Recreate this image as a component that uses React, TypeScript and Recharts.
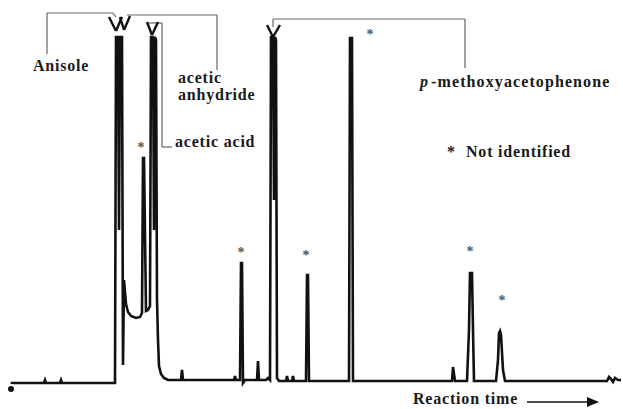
import { LineChart, Line, XAxis, YAxis, ReferenceLine } from "recharts";

// retention time (arbitrary units) and detector signal
const times = [
  11, 12, 44, 45, 46, 60, 61, 62, 115, 116, 118, 119, 120, 122, 123, 124, 125, 126, 128, 131, 136, 140, 142, 143,
  144, 146, 148, 150, 151, 153, 154, 155, 156, 157, 158, 159, 161, 164, 168, 181, 182, 183, 234, 235, 236, 240,
  241, 242, 243, 245, 257, 258, 259, 266, 268, 270, 271, 273, 274, 275, 276, 277, 279, 286, 287, 288, 292, 293,
  294, 306, 307, 308, 309, 349, 350, 352, 353, 452, 453, 455, 467, 469, 470, 472, 473, 474, 496, 498, 499, 500,
  501, 503, 505, 607, 609, 611, 613, 615, 618, 621,
];
const signal = [
  -6, 0, 0, 3, 0, 0, 3, 0, 0, 346, 346, 153, 346, 346, 18, 103, 91, 79, 71, 67, 65, 66, 70, 225,
  225, 72, 73, 77, 346, 346, 153, 346, 343, 83, 43, 17, 9, 5, 3, 3, 13, 3, 3, 7, 3, 3,
  120, 120, 0, 3, 3, 22, 3, 3, 5, 3, 346, 346, 183, 346, 343, 5, 2, 2, 7, 2, 2, 7,
  2, 2, 108, 108, 2, 2, 345, 345, 2, 2, 16, 2, 2, 53, 110, 110, 53, 2, 2, 23, 50, 52,
  48, 13, 2, 2, 6, 4, 1, 5, 3, 3,
];

// label brackets, in chart units [x1, y1, x2, y2]
const brackets = [
  [47, 329, 47, 370],
  [47, 370, 113, 370],
  [113, 370, 116, 366],
  [127, 368, 217, 368],
  [217, 368, 217, 313],
  [147, 360, 162, 360],
  [162, 360, 162, 236],
  [162, 236, 172, 236],
  [273, 356, 273, 364],
  [273, 364, 465, 364],
  [465, 364, 465, 315],
];
// arrow heads pointing at the peaks
const arrows = [
  [109, 366, 116, 352],
  [116, 352, 122, 366],
  [120, 366, 124, 353],
  [124, 353, 130, 367],
  [147, 361, 152, 348],
  [152, 348, 158, 361],
  [267, 358, 273, 346],
  [273, 346, 280, 358],
];
const starX = [141, 241, 306, 370, 470, 502];
const starY = [145, 250, 253, 32, 249, 298];

const data = times.map((t, i) => ({ t, s: signal[i] }));

const W = 623;
const H = 409;
const font = {
  fontFamily: "'Liberation Serif', 'Times New Roman', serif",
  fontWeight: 700,
  fontSize: 16,
  letterSpacing: 0.8,
  fill: "#1a1a1a",
};

export default function App() {
  return (
    <div style={{ position: "absolute", left: 0, top: 0, width: W, height: H, background: "#fff" }}>
      <LineChart width={W} height={H} data={data} margin={{ top: 0, right: 0, left: 0, bottom: 0 }}>
        <XAxis dataKey="t" type="number" domain={[0, W]} hide />
        <YAxis type="number" domain={[383 - H, 383]} hide />
        {brackets.map((b, i) => (
          <ReferenceLine
            key={"b" + i}
            segment={[{ x: b[0], y: b[1] }, { x: b[2], y: b[3] }]}
            stroke="#666"
            strokeWidth={1.2}
          />
        ))}
        {arrows.map((a, i) => (
          <ReferenceLine
            key={"a" + i}
            segment={[{ x: a[0], y: a[1] }, { x: a[2], y: a[3] }]}
            stroke="#111"
            strokeWidth={2.4}
          />
        ))}
        <Line
          type="linear"
          dataKey="s"
          stroke="#111"
          strokeWidth={2.6}
          dot={false}
          isAnimationActive={false}
        />
      </LineChart>
      <svg width={W} height={H} style={{ position: "absolute", left: 0, top: 0, pointerEvents: "none" }}>
        <text x={33} y={71} {...font}>Anisole</text>
        <text x={178} y={83} {...font}>acetic</text>
        <text x={178} y={100} {...font}>anhydride</text>
        <text x={175} y={147} {...font}>acetic acid</text>
        <text x={420} y={87} {...font} letterSpacing={1.1}>
          <tspan fontStyle="italic">p</tspan>
          <tspan dx={2}>-methoxyacetophenone</tspan>
        </text>
        <text x={447} y={157} {...font}>*</text>
        <text x={466} y={157} {...font}>Not identified</text>
        <text x={413} y={404} {...font}>Reaction time</text>
        <line x1={527} y1={402} x2={590} y2={402} stroke="#111" strokeWidth={1.5} />
        <polygon points="587,397 599,402 587,407" fill="#111" />
      </svg>
      <svg width={W} height={H} style={{ position: "absolute", left: 0, top: 0, pointerEvents: "none", opacity: 0.99 }}>
        {starX.map((x, i) => (
          <text key={i} x={x} y={starY[i] + 7} textAnchor="middle" {...font} fontSize={14} letterSpacing={0} fill="#555">
            *
          </text>
        ))}
      </svg>
    </div>
  );
}
